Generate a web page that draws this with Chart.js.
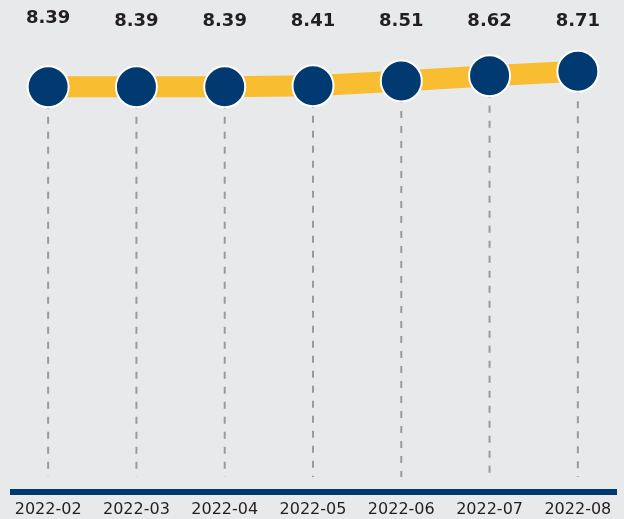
<!DOCTYPE html>
<html>
<head>
<meta charset="utf-8">
<script src="https://cdn.jsdelivr.net/npm/chart.js@4"></script>
<style>
  html, body { margin: 0; padding: 0; background: #e7e9eb; }
  canvas { display: block; }
</style>
</head>
<body>
<canvas id="rateChart" width="624" height="519"></canvas>
<script>
// DATA
const months = ["2022-02", "2022-03", "2022-04", "2022-05", "2022-06", "2022-07", "2022-08"];
const rates = [8.39, 8.39, 8.39, 8.41, 8.51, 8.62, 8.71];
const valueLabels = ["8.39", "8.39", "8.39", "8.41", "8.51", "8.62", "8.71"];

// dashed drops + navy baseline, under the line
const guides = {
  id: "guides",
  beforeDatasetsDraw(chart) {
    const ctx = chart.ctx;
    const area = chart.chartArea;
    const meta = chart.getDatasetMeta(0);
    const base = chart.scales.y.getPixelForValue(0);
    ctx.save();
    ctx.strokeStyle = "#9a9a9a";
    ctx.lineWidth = 2;
    ctx.setLineDash([7, 8]);
    meta.data.forEach(pt => {
      ctx.beginPath();
      ctx.moveTo(pt.x, pt.y);
      ctx.lineTo(pt.x, base - 15);
      ctx.stroke();
    });
    ctx.setLineDash([]);
    ctx.strokeStyle = "#003a70";
    ctx.lineWidth = 6;
    ctx.beginPath();
    ctx.moveTo(area.left + 6, base);
    ctx.lineTo(area.right - 5, base);
    ctx.stroke();
    ctx.restore();
  }
};

// value labels on top
const topLabels = {
  id: "topLabels",
  afterDatasetsDraw(chart) {
    const ctx = chart.ctx;
    const meta = chart.getDatasetMeta(0);
    ctx.save();
    ctx.fillStyle = "#231f20";
    ctx.font = "bold 18px 'DejaVu Sans'";
    ctx.textAlign = "center";
    ctx.textBaseline = "middle";
    meta.data.forEach((pt, i) => {
      ctx.fillText(valueLabels[i], pt.x, i === 0 ? 18 : 21);
    });
    ctx.restore();
  }
};

new Chart(document.getElementById("rateChart"), {
  type: "line",
  data: {
    labels: months,
    datasets: [{
      data: rates,
      borderColor: "#f8bd30",
      borderWidth: 21,
      pointRadius: 20.5,
      pointHoverRadius: 20.5,
      pointBackgroundColor: "#003a70",
      pointBorderColor: "#ffffff",
      pointBorderWidth: 2,
      tension: 0
    }]
  },
  options: {
    responsive: false,
    animation: false,
    devicePixelRatio: 1,
    layout: { autoPadding: false, padding: { top: 9, left: 4, right: 2, bottom: 0 } },
    plugins: { legend: { display: false }, tooltip: { enabled: false } },
    scales: {
      x: {
        offset: true,
        grid: { display: false, drawTicks: false },
        border: { display: false },
        afterFit(scale) { scale.height = 27; },
        ticks: {
          color: "#231f20",
          padding: 8,
          maxRotation: 0,
          font: { family: "'DejaVu Sans'", size: 16 }
        }
      },
      y: { display: false, min: 0, max: 10 }
    }
  },
  plugins: [guides, topLabels]
});
</script>
</body>
</html>
